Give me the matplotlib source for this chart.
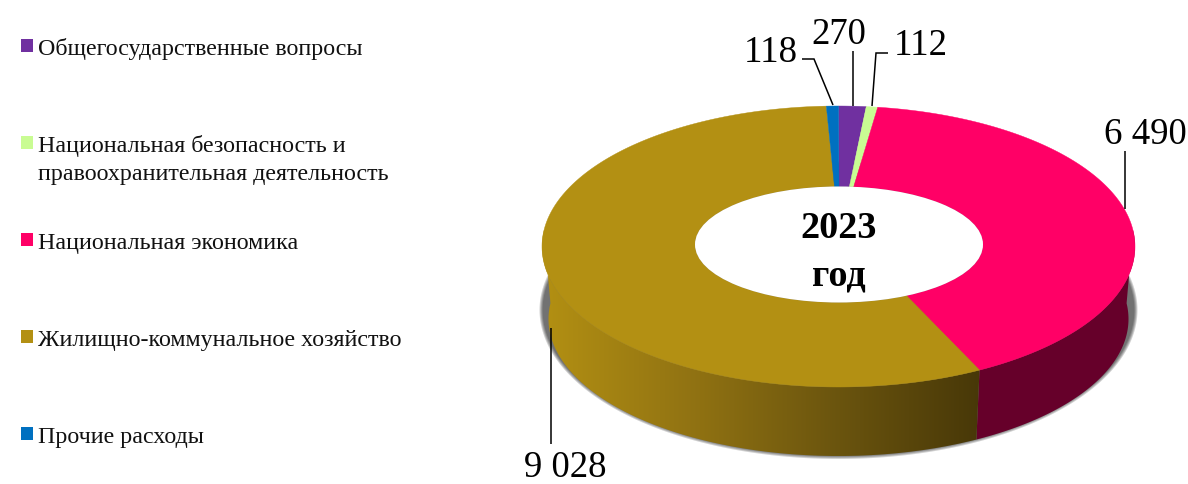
"""Расходы бюджета, 2023 год: объёмное кольцо с подписями и легендой слева."""
import numpy as np
import matplotlib
matplotlib.use("Agg")
import matplotlib.pyplot as plt
from matplotlib.colors import LinearSegmentedColormap
from matplotlib.patches import Ellipse, PathPatch, Rectangle
from matplotlib.path import Path

plt.rcParams["font.family"] = ["Liberation Serif", "DejaVu Serif"]

CATEGORIES = [
    "Общегосударственные вопросы",
    "Национальная безопасность и\nправоохранительная деятельность",
    "Национальная экономика",
    "Жилищно-коммунальное хозяйство",
    "Прочие расходы",
]
VALUES = [270, 112, 6490, 9028, 118]
COLORS = ["#7030A0", "#C9FC93", "#FF0066", "#B39013", "#0070C0"]
CENTER_TITLE = ["2023", "год"]

# геометрия кольца в пикселях картинки
CX, CY = 838.5, 247.5
RX, RY = 296.5, 140.5
HOLE_CX, HOLE_CY, HOLE_RX, HOLE_RY = 839, 245.5, 144, 58
BOTTOM_CY, BOTTOM_RX, BOTTOM_RY = 320, 290, 137

# подпись: центр текста и ломаная выноски
LABEL_POS = [(839, 35), (921, 46), (1145, 135), (565, 468), (771, 53)]
LEADERS = [
    [(853, 52), (853, 107)],
    [(888, 54), (876, 54), (872, 107)],
    [(1125, 152), (1125, 210)],
    [(550.5, 445), (550.5, 329)],
    [(802, 60), (814, 60), (833, 106)],
]
LEGEND_Y = [40, 137, 234, 331, 428]


def warp_outer(theta):
    # перспектива: верхние сектора сжаты
    return theta - 0.115 * np.sin(theta)


def warp_inner(theta):
    return theta - np.sin(theta) * (0.203 + 0.117 * np.cos(theta))


def arc(theta, warp, cx, cy, rx, ry):
    t = warp(theta)
    return np.column_stack([cx + rx * np.sin(t), cy - ry * np.cos(t)])


fig = plt.figure(figsize=(11.88, 4.85), dpi=100)
ax = fig.add_axes([0, 0, 1, 1])

# мягкая тень под кольцом
sh = np.linspace(0, 2 * np.pi, 361)
for grow in range(4, 0, -1):
    ax.fill(CX + (295 + grow) * np.sin(sh), 311 + (145 + grow) * np.cos(sh),
            color="black", alpha=0.18, lw=0, zorder=1)

# углы секторов из значений, по часовой от верха
edges = np.radians(np.cumsum([0] + VALUES) / sum(VALUES) * 360)

for i, value in enumerate(VALUES):
    start, stop = edges[i], edges[i + 1]
    # боковая стенка: только передняя половина
    lo, hi = max(start, np.pi / 2), min(stop, 3 * np.pi / 2)
    if lo < hi:
        th = np.linspace(lo, hi, 200)
        top = arc(th, warp_outer, CX, CY, RX, RY)
        bottom = arc(th, warp_outer, CX, BOTTOM_CY, BOTTOM_RX, BOTTOM_RY)
        verts = np.vstack([top, bottom[::-1], top[:1]])
        wall = PathPatch(Path(verts), facecolor="#66002A", edgecolor="none", zorder=2)
        ax.add_patch(wall)
        if COLORS[i] == "#B39013":
            wall.set_facecolor("none")
            cmap = LinearSegmentedColormap.from_list(
                "wall", [(0, "#B39013"), (0.36, "#8F7112"), (0.68, "#6A540E"), (1, "#483808")])
            x0, x1 = verts[:, 0].min(), verts[:, 0].max()
            im = ax.imshow(np.linspace(0, 1, 256)[None, :], cmap=cmap, aspect="auto",
                           extent=[x0, x1, verts[:, 1].max(), verts[:, 1].min()], zorder=2)
            im.set_clip_path(wall)

    # верхняя грань сектора
    th = np.linspace(start, stop, max(int((stop - start) * 80), 8))
    outer = arc(th, warp_outer, CX, CY, RX, RY)
    inner = arc(th, warp_inner, HOLE_CX, HOLE_CY, HOLE_RX, HOLE_RY)
    ax.fill(*np.vstack([outer, inner[::-1]]).T, color=COLORS[i], lw=0.3, zorder=3)

    # значение и выноска
    label = f"{value:,}".replace(",", " ")
    ax.text(*LABEL_POS[i], label, ha="center", va="center", fontsize=26.5, color="black", zorder=5)
    ax.plot(*np.array(LEADERS[i]).T, color="black", lw=1.1, zorder=4,
            solid_capstyle="butt", solid_joinstyle="miter")

# белое отверстие кольца, поверх тени
ax.add_patch(Ellipse((HOLE_CX, HOLE_CY), 2 * HOLE_RX, 2 * HOLE_RY, facecolor="white",
                     edgecolor="none", zorder=3.5))

# центр кольца
ax.text(839, 229, CENTER_TITLE[0], ha="center", va="center", fontsize=27.5,
        fontweight="bold", zorder=5)
ax.text(839, 276, CENTER_TITLE[1], ha="center", va="center", fontsize=27.5,
        fontweight="bold", zorder=5)

# легенда рисуется вручную: шаг между строками неравномерен для двухстрочной подписи
for name, color, y in zip(CATEGORIES, COLORS, LEGEND_Y):
    ax.add_patch(Rectangle((21, y), 12, 13, facecolor=color, edgecolor="none", zorder=3))
    for k, line in enumerate(name.split("\n")):
        ax.text(38, y + 15.5 + 27.5 * k, line, ha="left", va="baseline", fontsize=17.3,
                color="#111111", zorder=3)

ax.set_xlim(0, 1188)
ax.set_ylim(485, 0)
ax.axis("off")

fig.savefig("out.png", dpi=100, facecolor="white")
